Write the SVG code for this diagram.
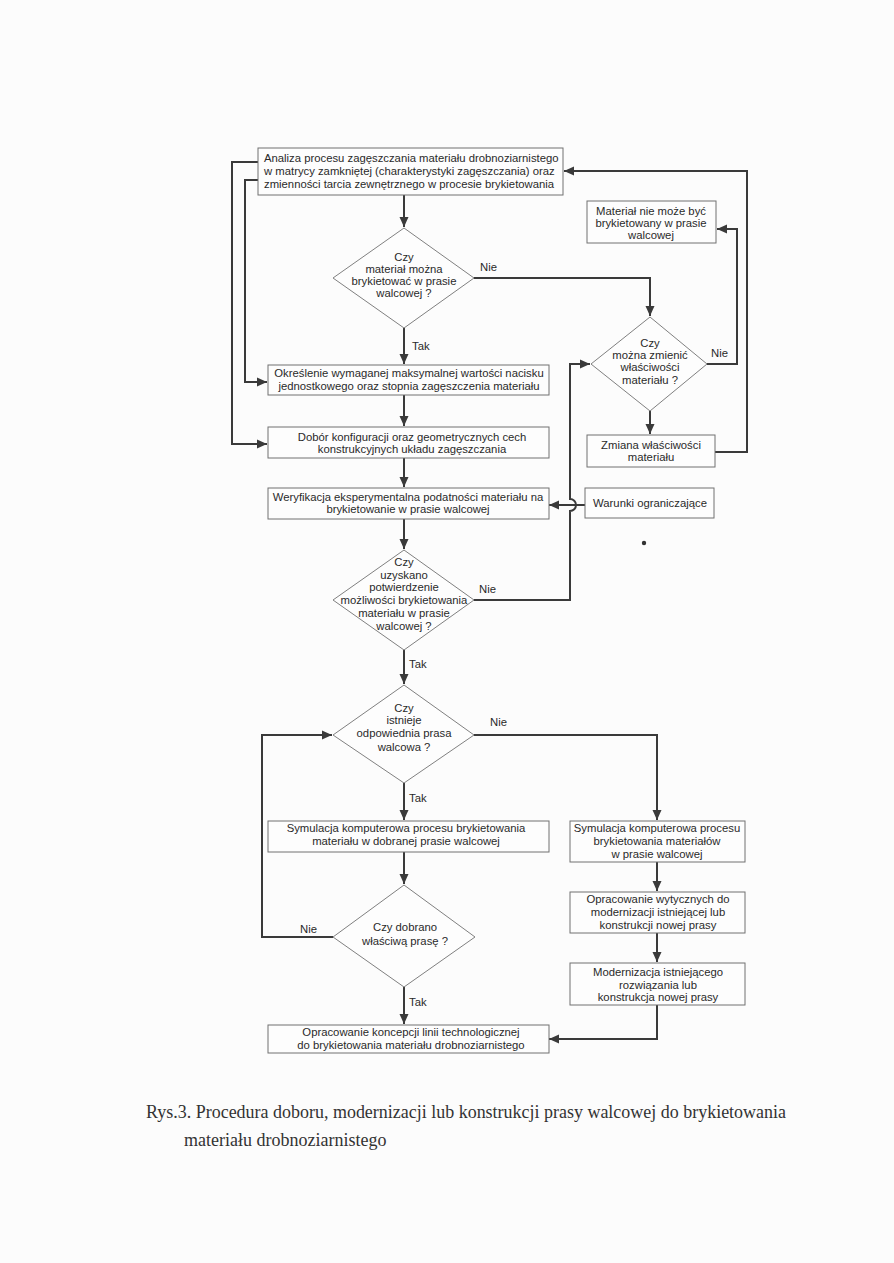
<svg xmlns="http://www.w3.org/2000/svg" width="894" height="1263" viewBox="0 0 894 1263">
<defs>
<marker id="ah" markerUnits="userSpaceOnUse" markerWidth="10" markerHeight="10" refX="10" refY="5" orient="auto">
<path d="M0,0.5 L10,5 L0,9.5 z" fill="#3a3a3a"/>
</marker>
<style>
.box{fill:#fdfdfd;stroke:#707070;stroke-width:1}
.dia{fill:#fdfdfd;stroke:#808080;stroke-width:1}
.t{font-family:"Liberation Sans",Arial,sans-serif;font-size:11.3px;fill:#2a2a2a}
.c{text-anchor:middle}
.lbl{font-family:"Liberation Sans",Arial,sans-serif;font-size:11.3px;fill:#2a2a2a}
.con{fill:none;stroke:#3a3a3a;stroke-width:2}
.arr{marker-end:url(#ah)}
.cap{font-family:"Liberation Serif","Times New Roman",serif;font-size:18px;fill:#333}
</style>
</defs>
<rect x="0" y="0" width="894" height="1263" fill="#fcfcfc"/>

<g id="connectors">
<path class="con arr" d="M404,195 V227"/>
<path class="con arr" d="M404,328 V364"/>
<path class="con arr" d="M404,395 V426"/>
<path class="con arr" d="M404,458 V487"/>
<path class="con arr" d="M404,519 V549"/>
<path class="con arr" d="M404,650 V684"/>
<path class="con arr" d="M404,783 V820"/>
<path class="con arr" d="M404,852 V884"/>
<path class="con arr" d="M404,987 V1024"/>
<path class="con arr" d="M474,278 H650 V316"/>
<path class="con arr" d="M707,364 H737 V229 H717"/>
<path class="con arr" d="M650,411 V434"/>
<path class="con arr" d="M715,452 H747 V171 H564"/>
<path class="con arr" d="M258,162 H232 V444 H267"/>
<path class="con arr" d="M258,180 H245 V382 H267"/>
<path class="con arr" d="M474,600 H570 V511 A6,6 0 0 0 570,499 V364 H590"/>
<path class="con arr" d="M585,505 H549"/>
<path class="con arr" d="M333,937 H262 V735 H332"/>
<path class="con arr" d="M474,735 H657 V820"/>
<path class="con arr" d="M657,862 V891"/>
<path class="con arr" d="M657,933 V962"/>
<path class="con arr" d="M657,1005 V1039 H549"/>
</g>

<g id="n1"><rect class="box" x="258" y="148" width="305" height="47"/>
<text class="t" x="264" y="162">Analiza procesu zagęszczania materiału drobnoziarnistego</text>
<text class="t" x="264" y="175">w matrycy zamkniętej (charakterystyki zagęszczania) oraz</text>
<text class="t" x="264" y="188">zmienności tarcia zewnętrznego w procesie brykietowania</text></g>

<g id="d1"><polygon class="dia" points="404,228 474,278 404,328 333,278"/>
<text class="t c" x="404" y="261">Czy</text>
<text class="t c" x="404" y="273">materiał można</text>
<text class="t c" x="404" y="285">brykietować w prasie</text>
<text class="t c" x="404" y="297">walcowej ?</text></g>
<text class="lbl" x="480" y="271">Nie</text>
<text class="lbl" x="412" y="350">Tak</text>

<g id="n_material"><rect class="box" x="587" y="201" width="129" height="42"/>
<text class="t c" x="651" y="215">Materiał nie może być</text>
<text class="t c" x="651" y="227">brykietowany w prasie</text>
<text class="t c" x="651" y="239">walcowej</text></g>

<g id="d2"><polygon class="dia" points="650,317 707,364 650,411 591,364"/>
<text class="t c" x="650" y="347">Czy</text>
<text class="t c" x="650" y="359">można zmienić</text>
<text class="t c" x="650" y="371">właściwości</text>
<text class="t c" x="650" y="384">materiału ?</text></g>
<text class="lbl" x="711" y="357">Nie</text>

<g id="n_zmiana"><rect class="box" x="587" y="435" width="128" height="32"/>
<text class="t c" x="651" y="449">Zmiana właściwości</text>
<text class="t c" x="651" y="461">materiału</text></g>

<g id="n2"><rect class="box" x="268" y="365" width="281" height="30"/>
<text class="t c" x="409" y="377">Określenie wymaganej maksymalnej wartości nacisku</text>
<text class="t c" x="409" y="390">jednostkowego oraz stopnia zagęszczenia materiału</text></g>

<g id="n3"><rect class="box" x="268" y="427" width="281" height="31"/>
<text class="t c" x="412" y="441">Dobór konfiguracji oraz geometrycznych cech</text>
<text class="t c" x="412" y="453">konstrukcyjnych układu zagęszczania</text></g>

<g id="n4"><rect class="box" x="268" y="488" width="281" height="31"/>
<text class="t c" x="408" y="501">Weryfikacja eksperymentalna podatności materiału na</text>
<text class="t c" x="408" y="513">brykietowanie w prasie walcowej</text></g>

<g id="n_warunki"><rect class="box" x="585" y="488" width="129" height="30"/>
<text class="t c" x="650" y="507">Warunki ograniczające</text></g>

<circle cx="644" cy="543" r="2.2" fill="#333"/>

<g id="d3"><polygon class="dia" points="404,550 474,600 404,650 333,600"/>
<text class="t c" x="404" y="566">Czy</text>
<text class="t c" x="404" y="579">uzyskano</text>
<text class="t c" x="404" y="591">potwierdzenie</text>
<text class="t c" x="404" y="604">możliwości brykietowania</text>
<text class="t c" x="404" y="617">materiału w prasie</text>
<text class="t c" x="404" y="630">walcowej ?</text></g>
<text class="lbl" x="479" y="593">Nie</text>
<text class="lbl" x="409" y="668">Tak</text>

<g id="d4"><polygon class="dia" points="404,685 474,735 404,783 333,735"/>
<text class="t c" x="404" y="712">Czy</text>
<text class="t c" x="404" y="724">istnieje</text>
<text class="t c" x="404" y="737">odpowiednia prasa</text>
<text class="t c" x="404" y="751">walcowa ?</text></g>
<text class="lbl" x="490" y="726">Nie</text>
<text class="lbl" x="409" y="802">Tak</text>

<g id="n5"><rect class="box" x="268" y="821" width="281" height="31"/>
<text class="t c" x="406" y="832">Symulacja komputerowa procesu brykietowania</text>
<text class="t c" x="406" y="845">materiału w dobranej prasie walcowej</text></g>

<g id="n_rs"><rect class="box" x="570" y="821" width="175" height="41"/>
<text class="t c" x="657" y="832">Symulacja komputerowa procesu</text>
<text class="t c" x="657" y="845">brykietowania materiałów</text>
<text class="t c" x="657" y="858">w prasie walcowej</text></g>

<g id="d5"><polygon class="dia" points="404,885 475,937 404,987 333,937"/>
<text class="t c" x="405" y="931">Czy dobrano</text>
<text class="t c" x="405" y="945">właściwą prasę ?</text></g>
<text class="lbl" x="300" y="933">Nie</text>
<text class="lbl" x="409" y="1006">Tak</text>

<g id="n_wyt"><rect class="box" x="570" y="892" width="175" height="41"/>
<text class="t c" x="658" y="903">Opracowanie wytycznych do</text>
<text class="t c" x="658" y="916">modernizacji istniejącej lub</text>
<text class="t c" x="658" y="929">konstrukcji nowej prasy</text></g>

<g id="n_mod"><rect class="box" x="570" y="963" width="175" height="42"/>
<text class="t c" x="658" y="976">Modernizacja istniejącego</text>
<text class="t c" x="658" y="989">rozwiązania lub</text>
<text class="t c" x="658" y="1001">konstrukcja nowej prasy</text></g>

<g id="n_final"><rect class="box" x="268" y="1025" width="281" height="28"/>
<text class="t c" x="411" y="1036">Opracowanie koncepcji linii technologicznej</text>
<text class="t c" x="411" y="1049">do brykietowania materiału drobnoziarnistego</text></g>

<g id="caption">
<text class="cap" x="146" y="1118" textLength="640" lengthAdjust="spacingAndGlyphs">Rys.3. Procedura doboru, modernizacji lub konstrukcji prasy walcowej do brykietowania</text>
<text class="cap" x="184" y="1146">materiału drobnoziarnistego</text>
</g>
</svg>
